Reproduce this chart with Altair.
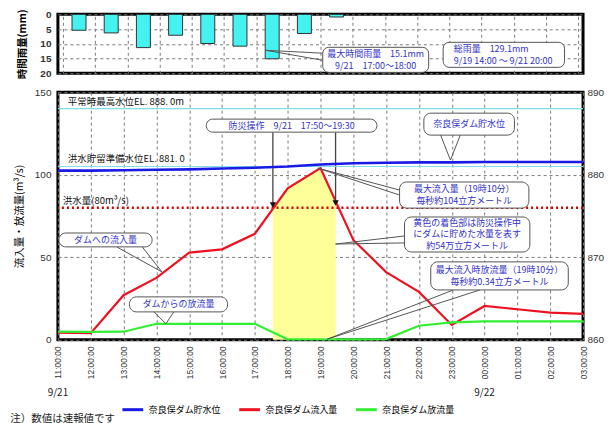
import altair as alt
import pandas as pd

FONT = "Noto Sans CJK JP"
TXT_BLUE = "#3232c8"
BOX_STROKE = "#555555"
GRID = "#7a7a7a"

W = 526
H_MAIN = 248
H_RAIN = 59

# ---------------- data ----------------
times = ["11:00", "12:00", "13:00", "14:00", "15:00", "16:00", "17:00", "18:00", "19:00",
         "20:00", "21:00", "22:00", "23:00", "00:00", "01:00", "02:00", "03:00"]
inflow = [4.4, 4.0, 27.0, 37.5, 52.8, 54.8, 64.2, 91.7, 104.0, 60.5, 41.0, 29.0, 9.0, 20.5, 18.5, 16.5, 15.7]
outflow = [5.0, 4.8, 4.9, 9.7, 9.7, 9.7, 9.7, 0.3, 0.34, 0.3, 0.4, 8.5, 10.5, 11.2, 11.2, 11.2, 11.2]
level = [880.5, 880.5, 880.55, 880.6, 880.65, 880.75, 880.85, 881.0, 881.25, 881.4, 881.45,
         881.5, 881.5, 881.55, 881.55, 881.55, 881.55]

rain_times = ["11:30", "12:30", "13:30", "14:30", "15:30", "16:30", "17:30", "18:30", "19:30"]
rain = [5.4, 6.3, 11.3, 7.1, 9.9, 10.8, 15.1, 6.5, 0.9]

store_times = ["17:33", "18:00", "19:00", "19:28"]
store_vals = [79.6, 91.7, 104.0, 83.7]

series_names = ["奈良俣ダム貯水位", "奈良俣ダム流入量", "奈良俣ダム放流量"]
series_colors = ["#1a1ae6", "#ee1122", "#33ee33"]

normal_max_level = 888.0
flood_prep_level = 881.0
flood_flow = 80

date_labels = ["9/21", "9/22"]
date_times = ["11:00", "00:00"]

hour_ticks = list(range(11, 28))
left_ticks = [0, 50, 100, 150]
right_ticks = [860, 870, 880, 890]
rain_ticks = [0, 5, 10, 15, 20]


def to_h(t):
    h, m = map(int, t.split(":"))
    if h < 11:
        h += 24
    return h + m / 60


# main chart callout boxes: (x1, x2, y1, y2, text)
main_boxes = [
    (15.52, 20.72, 125.8, 133.7, "防災操作　9/21　17:50～19:30"),
    (22.15, 24.91, 124.0, 137.3, "奈良俣ダム貯水位"),
    (21.41, 25.35, 79.8, 95.6, "最大流入量（19時10分）\n毎秒約104立方メートル"),
    (21.56, 25.38, 53.2, 74.4, "黄色の着色部は防災操作中\nにダムに貯めた水量を表す\n約54万立方メートル"),
    (11.03, 13.87, 56.3, 64.7, "ダムへの流入量"),
    (13.18, 16.17, 16.9, 26.0, "ダムからの放流量"),
    (22.36, 26.55, 30.2, 47.2, "最大流入時放流量（19時10分）\n毎秒約0.34立方メートル"),
]
main_pointers = [
    (22.66, 124.0, 22.96, 108.9), (23.26, 124.0, 22.96, 108.9),
    (18.92, 104.0, 21.41, 90.7), (18.92, 104.0, 21.41, 87.7),
    (19.46, 58.0, 21.56, 62.9), (19.46, 58.0, 21.56, 58.7),
    (12.79, 56.3, 14.17, 41.1), (13.57, 56.3, 14.17, 41.1),
    (13.93, 16.9, 14.29, 9.7), (14.53, 16.9, 14.29, 9.7),
    (19.21, 0.4, 23.05, 30.2), (19.21, 0.4, 23.86, 30.2),
]
main_arrows = [(17.55, 125.8, 81.7), (19.46, 125.8, 82.9)]
main_labels = [
    (11.3, 143.9, "平常時最高水位EL. 888. 0m"),
    (11.3, 109.5, "洪水貯留準備水位EL. 881. 0"),
    (11.15, 84.3, "洪水量(80m³/s)"),
]

rain_boxes = [
    (19.07, 22.36, 11.2, 19.7, "最大時間雨量　15.1mm\n9/21　17:00～18:00", "center"),
    (22.81, 26.58, 9.5, 18.0, "総雨量　129.1mm\n9/19 14:00 ～ 9/21 20:00", "left"),
]
rain_pointers = [(17.3, 12.2, 19.07, 13.2), (17.3, 12.2, 19.07, 15.6)]

note_text = "注）数値は速報値です"

# ---------------- tables ----------------
hrs = [to_h(t) for t in times]
flow_df = pd.DataFrame({
    "h": hrs * 2,
    "v": inflow + outflow,
    "series": [series_names[1]] * len(hrs) + [series_names[2]] * len(hrs),
})
level_df = pd.DataFrame({"h": hrs, "lv": level, "series": series_names[0]})
store_df = pd.DataFrame({"h": [to_h(t) for t in store_times], "v": store_vals})
rain_df = pd.DataFrame({"h": [to_h(t) for t in rain_times], "r": rain})

PX_MAIN = H_MAIN / 150.0   # px per m3/s
PX_RAIN = H_RAIN / 20.0    # px per mm
LH_MAIN = 11.5
LH_RAIN = 12.0

mb_df = pd.DataFrame([{"x1": b[0], "x2": b[1], "y1": b[2], "y2": b[3]} for b in main_boxes])
mt_rows = []
for b in main_boxes:
    parts = b[4].split("\n")
    n = len(parts)
    for i, s in enumerate(parts):
        mt_rows.append({"tx": (b[0] + b[1]) / 2,
                        "ty": (b[2] + b[3]) / 2 - (i - (n - 1) / 2) * LH_MAIN / PX_MAIN,
                        "txt": s})
mt_df = pd.DataFrame(mt_rows)
mp_df = pd.DataFrame([{"x1": p[0], "y1": p[1], "x2": p[2], "y2": p[3]} for p in main_pointers])
ma_df = pd.DataFrame([{"x1": a[0], "y1": a[1], "y2": a[2]} for a in main_arrows])
ml_df = pd.DataFrame([{"tx": l[0], "ty": l[1], "txt": l[2]} for l in main_labels])
date_df = pd.DataFrame({"tx": [to_h(t) for t in date_times], "txt": date_labels, "ty": -32.5})
note_df = pd.DataFrame({"tx": [9.55], "ty": [-45.0], "txt": [note_text]})
ref_df = pd.DataFrame({"lv": [normal_max_level, flood_prep_level]})
flood_df = pd.DataFrame({"v": [flood_flow]})

rb_df = pd.DataFrame([{"x1": b[0], "x2": b[1], "y1": b[2], "y2": b[3]} for b in rain_boxes])
rt_rows = []
for b in rain_boxes:
    parts = b[4].split("\n")
    n = len(parts)
    for i, s in enumerate(parts):
        rt_rows.append({"tx": (b[0] + b[1]) / 2 if b[5] == "center" else b[0] + 0.33,
                        "ty": (b[2] + b[3]) / 2 + (i - (n - 1) / 2) * LH_RAIN / PX_RAIN,
                        "txt": s, "al": b[5]})
rt_df = pd.DataFrame(rt_rows)
rp_df = pd.DataFrame([{"x1": p[0], "y1": p[1], "x2": p[2], "y2": p[3]} for p in rain_pointers])

# ---------------- scales / axes ----------------
XS = alt.Scale(domain=[11, 27], nice=False, zero=False)
X_AX_MAIN = alt.Axis(values=hour_ticks, title=None, ticks=False, domain=False, grid=True,
                     gridDash=[3, 3], gridColor=GRID, gridWidth=1, labelAngle=270,
                     labelFontSize=8.5, labelPadding=6, labelColor="#333",
                     labelExpr="(datum.value % 24 < 10 ? '0' : '') + (datum.value % 24) + ':00:00'")
X_AX_RAIN = alt.Axis(values=hour_ticks, title=None, ticks=False, domain=False, grid=True,
                     gridDash=[3, 3], gridColor=GRID, gridWidth=1, labels=False, labelPadding=0)
YL = alt.Scale(domain=[0, 150], nice=False, zero=False)
YL_AX = alt.Axis(values=left_ticks, title="流入量・放流量(m³/s)", ticks=False, domain=False, grid=True,
                 gridDash=[3, 3], gridColor=GRID, labelPadding=7, titlePadding=10,
                 labelFontSize=10, labelColor="#333", titleFontSize=10.5, titleFontWeight="normal")
YR = alt.Scale(domain=[860, 890], nice=False, zero=False)
YR_AX = alt.Axis(orient="right", values=right_ticks, title=None, ticks=False, domain=False,
                 grid=False, labelPadding=4, labelFontSize=10, labelColor="#333")
YRAIN = alt.Scale(domain=[0, 20], nice=False, zero=False, reverse=True)
YRAIN_AX = alt.Axis(values=rain_ticks, title="時間雨量(mm)", ticks=False, domain=False, grid=True,
                    gridDash=[3, 3], gridColor=GRID, labelPadding=7, titlePadding=12,
                    labelFontSize=10, labelFontWeight="bold", labelColor="#333",
                    titleFontSize=10.5, titleFontWeight="bold")
LEG = alt.Legend(orient="none", legendX=63, legendY=306, direction="horizontal", title=None,
                 symbolType="stroke", symbolSize=430, symbolStrokeWidth=3, labelFontSize=9,
                 labelFont=FONT, labelOffset=4, columnPadding=11, padding=0, labelLimit=200)
COL = alt.Color("series:N", scale=alt.Scale(domain=series_names, range=series_colors), legend=LEG)


def xm(f):
    return alt.X(f, scale=XS, axis=X_AX_MAIN)


def yl(f):
    return alt.Y(f, scale=YL, axis=YL_AX)


def xr(f):
    return alt.X(f, scale=XS, axis=X_AX_RAIN)


def yr(f):
    return alt.Y(f, scale=YRAIN, axis=YRAIN_AX)


# ---------------- rain chart ----------------
rain_bars = alt.Chart(rain_df).mark_bar(size=14, color="#44f2f2", stroke="#333", strokeWidth=1).encode(
    x=xr("h:Q"), y=yr("r:Q"), y2=alt.datum(0))
rain_ptr = alt.Chart(rp_df).mark_rule(color=BOX_STROKE, strokeWidth=1).encode(
    x=xr("x1:Q"), x2="x2:Q", y=yr("y1:Q"), y2="y2:Q")
rain_box = alt.Chart(rb_df).mark_rect(fill="white", stroke=BOX_STROKE, strokeWidth=1, cornerRadius=6).encode(
    x=xr("x1:Q"), x2="x2:Q", y=yr("y1:Q"), y2="y2:Q")
rain_txt_c = alt.Chart(rt_df[rt_df["al"] == "center"]).mark_text(
    font=FONT, fontSize=9, color=TXT_BLUE, align="center", baseline="middle").encode(
    x=xr("tx:Q"), y=yr("ty:Q"), text="txt:N")
rain_txt_l = alt.Chart(rt_df[rt_df["al"] == "left"]).mark_text(
    font=FONT, fontSize=9, color=TXT_BLUE, align="left", baseline="middle").encode(
    x=xr("tx:Q"), y=yr("ty:Q"), text="txt:N")
rain_chart = alt.layer(rain_bars, rain_ptr, rain_box, rain_txt_c, rain_txt_l).properties(width=W, height=H_RAIN)

# ---------------- main chart ----------------
area = alt.Chart(store_df).mark_area(color="#ffff99", opacity=1).encode(x=xm("h:Q"), y=yl("v:Q"), y2=alt.datum(0))
flood_rule = alt.Chart(flood_df).mark_rule(color="#cc0000", strokeWidth=2.5, strokeDash=[2, 3]).encode(y=yl("v:Q"))
flow_lines = alt.Chart(flow_df).mark_line(strokeWidth=2.2).encode(x=xm("h:Q"), y=yl("v:Q"), color=COL)
ptrs = alt.Chart(mp_df).mark_rule(color=BOX_STROKE, strokeWidth=1).encode(
    x=xm("x1:Q"), x2="x2:Q", y=yl("y1:Q"), y2="y2:Q")
arrows = alt.Chart(ma_df).mark_rule(color="#444", strokeWidth=1.3).encode(
    x=xm("x1:Q"), y=yl("y1:Q"), y2="y2:Q")
heads = alt.Chart(ma_df).mark_point(shape="triangle-down", filled=True, color="#111", size=40, opacity=1).encode(
    x=xm("x1:Q"), y=yl("y2:Q"))
boxes = alt.Chart(mb_df).mark_rect(fill="white", stroke=BOX_STROKE, strokeWidth=1, cornerRadius=7).encode(
    x=xm("x1:Q"), x2="x2:Q", y=yl("y1:Q"), y2="y2:Q")
box_txt = alt.Chart(mt_df).mark_text(font=FONT, fontSize=9, color=TXT_BLUE,
                                     align="center", baseline="middle").encode(
    x=xm("tx:Q"), y=yl("ty:Q"), text="txt:N")
labels = alt.Chart(ml_df).mark_text(font=FONT, fontSize=9.5, color="#111", align="left", baseline="middle").encode(
    x=xm("tx:Q"), y=yl("ty:Q"), text="txt:N")
dates = alt.Chart(date_df).mark_text(font=FONT, fontSize=10, color="#222", align="center", baseline="middle").encode(
    x=xm("tx:Q"), y=yl("ty:Q"), text="txt:N")
note = alt.Chart(note_df).mark_text(font=FONT, fontSize=10.5, color="#222", align="left", baseline="top").encode(
    x=xm("tx:Q"), y=yl("ty:Q"), text="txt:N")

left_layer = alt.layer(area, flood_rule, flow_lines, ptrs, arrows, heads, boxes, box_txt, labels, dates, note)

ref_rules = alt.Chart(ref_df).mark_rule(color="#80e0ea", strokeWidth=1.2).encode(
    y=alt.Y("lv:Q", scale=YR, axis=YR_AX))
level_line = alt.Chart(level_df).mark_line(strokeWidth=2.6).encode(
    x=xm("h:Q"), y=alt.Y("lv:Q", scale=YR, axis=YR_AX), color=COL)
right_layer = alt.layer(ref_rules, level_line)

main_chart = alt.layer(left_layer, right_layer).resolve_scale(y="independent").properties(width=W, height=H_MAIN)

chart = alt.vconcat(rain_chart, main_chart, spacing=4).resolve_scale(color="independent").properties(
    padding={"left": 0, "top": -2, "right": 0, "bottom": 0}
).configure_view(stroke="black", strokeWidth=3).configure_axis(
    labelFont="Liberation Sans", titleFont=FONT
).configure_text(font=FONT)

chart.save("out.html", embed_options={"renderer": "svg", "actions": False})
